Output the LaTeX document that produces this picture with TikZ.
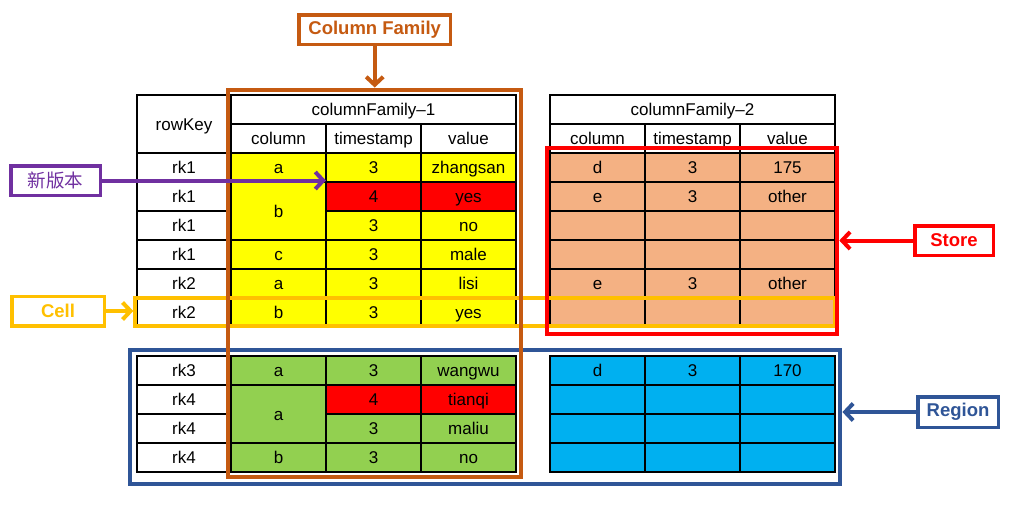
\documentclass[tikz,border=0pt]{standalone}
\usepackage{fontspec}
\setmainfont{Liberation Sans}
\newfontfamily\cjk{Noto Sans CJK SC}
\usetikzlibrary{arrows.meta}
\definecolor{cfyellow}{HTML}{FFFF00}
\definecolor{cfgreen}{HTML}{92D050}
\definecolor{cfsalmon}{HTML}{F4B183}
\definecolor{cfblue}{HTML}{00B0F0}
\definecolor{famorange}{HTML}{C55A11}
\definecolor{cellgold}{HTML}{FFC000}
\definecolor{regionblue}{HTML}{2F5597}
\definecolor{newpurple}{HTML}{7030A0}
\tikzset{
  tcell/.style={draw, line width=2pt, inner sep=0pt, outer sep=0pt, anchor=north west,
    minimum width=95pt, minimum height=29pt, text height=15pt, text depth=3pt,
    font=\fontsize{17}{20}\selectfont},
  hlbox/.style={draw=#1, line width=4pt, inner sep=0pt},
  labelbox/.style={draw=#1, text=#1, line width=3.5pt, inner sep=0pt, minimum height=29.5pt,
    font=\bfseries\fontsize{18.5}{22}\selectfont},
  hlarrow/.style={draw=#1, line width=4pt, -{Straight Barb[length=8pt,width=17pt]}}
}
\begin{document}
\begin{tikzpicture}[x=1pt,y=-1pt]
\useasboundingbox (0,0) rectangle (1018,507);
\node[tcell, minimum width=94pt, minimum height=58pt] (rowkey) at (137,95) {rowKey};
\foreach \i/\y/\k in {1/153/rk1, 2/182/rk1, 3/211/rk1, 4/240/rk1, 5/269/rk2, 6/298/rk2,
    7/356/rk3, 8/385/rk4, 9/414/rk4, 10/443/rk4}
  \node[tcell, minimum width=94pt] (key-\i) at (137,\y) {\k};
\node[tcell, minimum width=285pt] (cf1) at (231,95) {columnFamily–1};
\node[tcell, minimum width=285pt] (cf2) at (550,95) {columnFamily–2};
\foreach \n/\x/\t in {col/0/column, ts/95/timestamp, val/190/value} {
  \node[tcell] (cf1-\n) at (231+\x,124) {\t};
  \node[tcell] (cf2-\n) at (550+\x,124) {\t};
}
\node[tcell, fill=cfyellow] (col-1) at (231,153) {a};
\node[tcell, fill=cfyellow, minimum height=58pt] (col-2) at (231,182) {b};
\node[tcell, fill=cfyellow] (col-4) at (231,240) {c};
\node[tcell, fill=cfyellow] (col-5) at (231,269) {a};
\node[tcell, fill=cfyellow] (col-6) at (231,298) {b};
\node[tcell, fill=cfgreen] (col-7) at (231,356) {a};
\node[tcell, fill=cfgreen, minimum height=58pt] (col-8) at (231,385) {a};
\node[tcell, fill=cfgreen] (col-10) at (231,443) {b};
\foreach \i/\y/\t/\v/\c in {1/153/3/zhangsan/cfyellow, 2/182/4/yes/red, 3/211/3/no/cfyellow,
    4/240/3/male/cfyellow, 5/269/3/lisi/cfyellow, 6/298/3/yes/cfyellow,
    7/356/3/wangwu/cfgreen, 8/385/4/tianqi/red, 9/414/3/maliu/cfgreen, 10/443/3/no/cfgreen} {
  \node[tcell, fill=\c] (ts-\i) at (326,\y) {\t};
  \node[tcell, fill=\c] (val-\i) at (421,\y) {\v};
}
\foreach \i/\y/\a/\t/\v/\c in {1/153/d/3/175/cfsalmon, 2/182/e/3/other/cfsalmon,
    3/211/{}/{}/{}/cfsalmon, 4/240/{}/{}/{}/cfsalmon, 5/269/e/3/other/cfsalmon,
    6/298/{}/{}/{}/cfsalmon, 7/356/d/3/170/cfblue, 8/385/{}/{}/{}/cfblue,
    9/414/{}/{}/{}/cfblue, 10/443/{}/{}/{}/cfblue} {
  \node[tcell, fill=\c] (col2-\i) at (550,\y) {\a};
  \node[tcell, fill=\c] (ts2-\i) at (645,\y) {\t};
  \node[tcell, fill=\c] (val2-\i) at (740,\y) {\v};
}
\node[hlbox=regionblue, minimum width=710pt, minimum height=133.4pt] (regionframe) at (485.4,417) {};
\node[hlbox=cellgold, minimum width=699.4pt, minimum height=28pt] (cellframe) at (485,312) {};
\node[hlbox=red, minimum width=290pt, minimum height=185.7pt] (storeframe) at (692.3,241.2) {};
\node[hlbox=famorange, minimum width=292.7pt, minimum height=387.5pt] (cfframe) at (374.7,283.3) {};
\node[labelbox=famorange, minimum width=151.5pt] (famlabel) at (374.7,29.5) {Column Family};
\node[labelbox=newpurple, minimum width=89.5pt, font=\cjk\fontsize{18.5}{22}\selectfont] (newlabel) at (55.5,180.5) {新版本};
\node[labelbox=cellgold, minimum width=92.5pt] (celllabel) at (58,311) {Cell};
\node[labelbox=red, minimum width=78.5pt] (storelabel) at (954,240.5) {Store};
\node[labelbox=regionblue, minimum width=80.5pt, minimum height=30.5pt] (regionlabel) at (958,412) {Region};
\draw[hlarrow=famorange] (famlabel.south) -- (famlabel.south |- cfframe.north);
\draw[hlarrow=newpurple] (newlabel.east) -- (newlabel.east -| ts-2.west);
\draw[hlarrow=cellgold] (celllabel.east) -- (celllabel.east -| cellframe.west);
\draw[hlarrow=red] (storelabel.west) -- (storelabel.west -| storeframe.east);
\draw[hlarrow=regionblue] (regionlabel.west) -- (regionlabel.west -| regionframe.east);
\end{tikzpicture}
\end{document}
